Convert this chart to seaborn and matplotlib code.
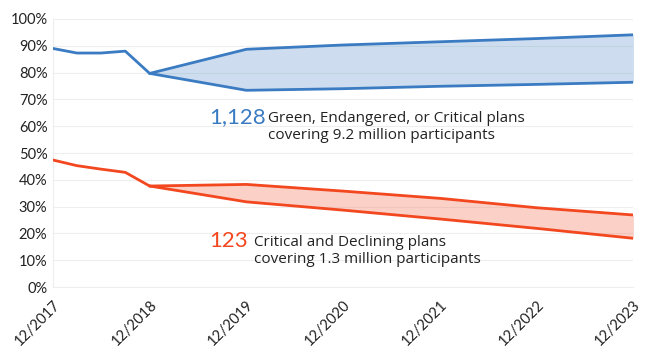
import pandas as pd
import matplotlib.pyplot as plt
import seaborn as sns

sns.set_style('white')
plt.rcParams['font.family'] = ['Lato', 'DejaVu Sans']

# history, quarterly
hist_dates = ['2017-12-31', '2018-03-31', '2018-06-30', '2018-09-30', '2018-12-31']
blue_hist = [89.0, 87.3, 87.3, 88.0, 79.7]
red_hist = [47.4, 45.3, 44.0, 42.8, 37.7]

# projections, yearly
proj_dates = ['2018-12-31', '2019-12-31', '2020-12-31', '2021-12-31', '2022-12-31', '2023-12-31']
blue_high = [79.7, 88.7, 90.3, 91.5, 92.7, 94.1]
blue_low = [79.7, 73.4, 74.0, 74.9, 75.6, 76.4]
red_high = [37.7, 38.3, 35.8, 33.1, 29.6, 26.9]
red_low = [37.7, 31.8, 28.7, 25.4, 21.9, 18.2]

tick_dates = ['2017-12-31', '2018-12-31', '2019-12-31', '2020-12-31',
              '2021-12-31', '2022-12-31', '2023-12-31']
tick_labels = ['12/2017', '12/2018', '12/2019', '12/2020', '12/2021', '12/2022', '12/2023']

blue = '#3A7BC2'
red = '#F2471F'

hist = pd.DataFrame({'date': pd.to_datetime(hist_dates), 'blue': blue_hist, 'red': red_hist})
proj = pd.DataFrame({'date': pd.to_datetime(proj_dates), 'bh': blue_high, 'bl': blue_low,
                     'rh': red_high, 'rl': red_low})

fig = plt.figure(figsize=(6.5, 3.58), dpi=100)
ax = fig.add_axes([0.0815, 0.198, 0.893, 0.749])

ax.fill_between(proj['date'], proj['bl'], proj['bh'], color=blue, alpha=0.25, lw=0, zorder=2)
ax.fill_between(proj['date'], proj['rl'], proj['rh'], color=red, alpha=0.25, lw=0, zorder=2)

lw = 2.0
sns.lineplot(data=hist, x='date', y='blue', color=blue, lw=lw, ax=ax, zorder=3)
sns.lineplot(data=hist, x='date', y='red', color=red, lw=lw, ax=ax, zorder=3)
for col, c in [('bh', blue), ('bl', blue), ('rh', red), ('rl', red)]:
    sns.lineplot(data=proj, x='date', y=col, color=c, lw=lw, ax=ax, zorder=3)

ax.set_ylim(0, 100)
ax.set_xlim(pd.Timestamp('2017-12-31'), pd.Timestamp('2023-12-31'))
ax.set_yticks(range(0, 101, 10))
ax.set_yticklabels([f'{v}%' for v in range(0, 101, 10)], fontsize=10.5, color='#222222')
ax.set_xticks(pd.to_datetime(tick_dates))
ax.set_xticklabels(tick_labels, rotation=45, ha='right', rotation_mode='anchor',
                   fontsize=10.5, color='#222222')
ax.tick_params(axis='both', length=0, pad=4)
ax.tick_params(axis='x', pad=8)
ax.set_xlabel('')
ax.set_ylabel('')
ax.grid(axis='y', color='#EEEEEE', lw=0.8, zorder=0)
ax.set_axisbelow(True)
for s in ['top', 'right']:
    ax.spines[s].set_visible(False)
for s in ['left', 'bottom']:
    ax.spines[s].set_color('#EEEEEE')
    ax.spines[s].set_linewidth(0.8)

# annotations
note = dict(color='#222222', fontsize=11, va='center', ha='left', fontweight='medium',
            family=['Open Sans', 'DejaVu Sans'], linespacing=1.15)
fig.text(209 / 650, 1 - 117 / 358, '1,128', color=blue, fontsize=16, va='center', ha='left')
fig.text(268 / 650, 1 - 127 / 358, 'Green, Endangered, or Critical plans\ncovering 9.2 million participants', **note)
fig.text(209 / 650, 1 - 241 / 358, '123', color=red, fontsize=16, va='center', ha='left')
fig.text(254 / 650, 1 - 251 / 358, 'Critical and Declining plans\ncovering 1.3 million participants', **note)

fig.savefig('out.png', dpi=100)
